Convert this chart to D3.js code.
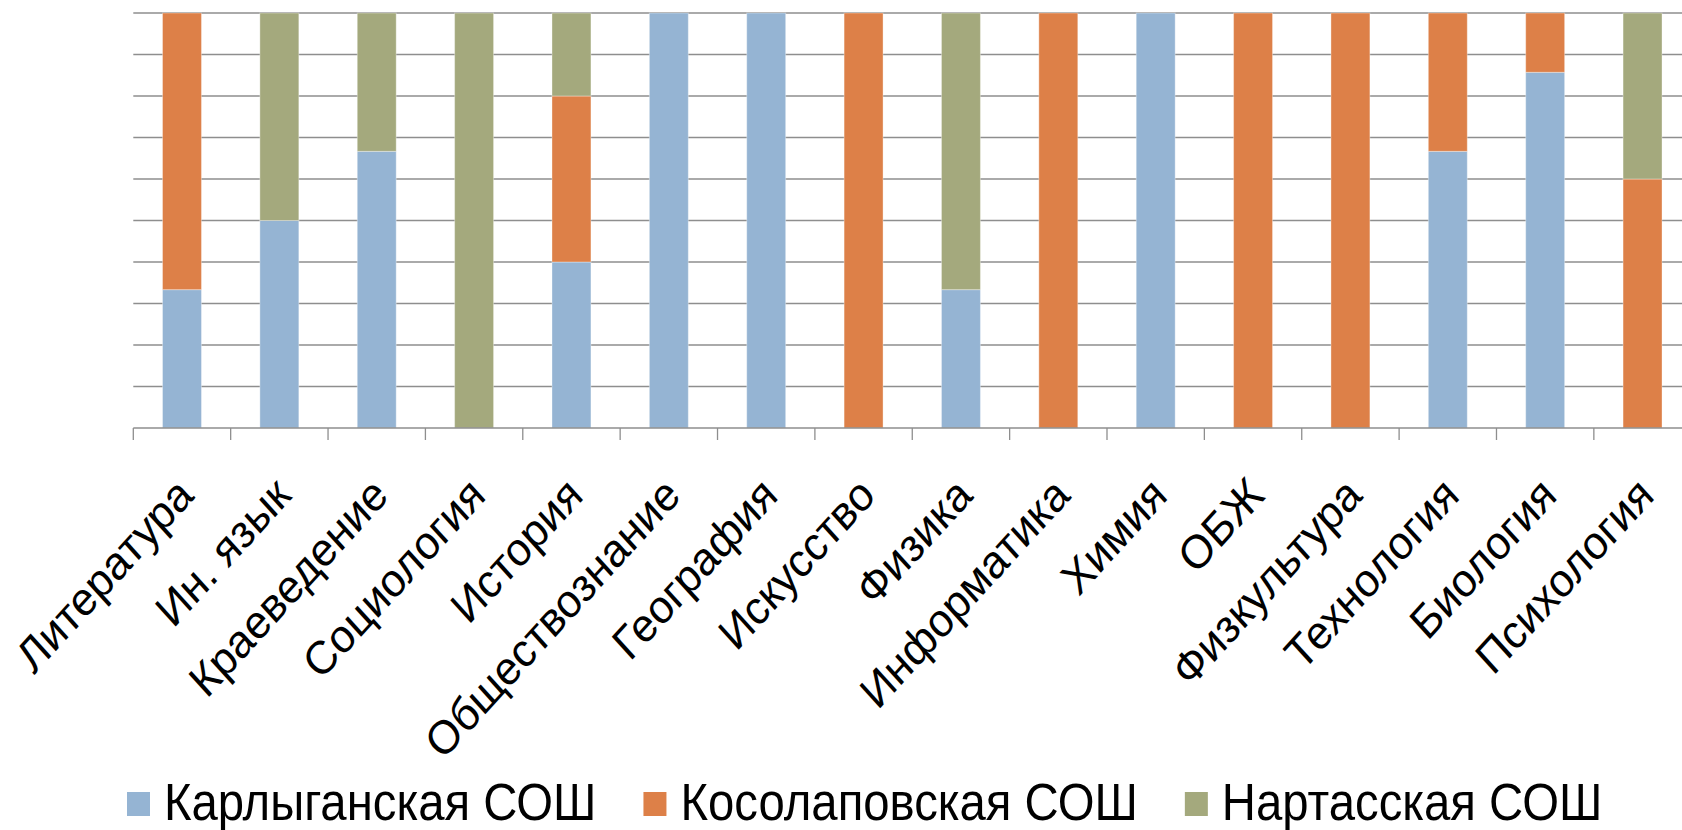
<!DOCTYPE html>
<html><head><meta charset="utf-8">
<script src="https://cdn.jsdelivr.net/npm/d3@7"></script>
<style>
html,body{margin:0;padding:0;background:#fff;}
svg{display:block;font-family:"Liberation Sans",Arial,sans-serif;}
</style></head>
<body>
<svg id="chart" width="1682" height="830"></svg>
<script>
const categories = ["Литература","Ин. язык","Краеведение","Социология","История","Обществознание","География","Искусство","Физика","Информатика","Химия","ОБЖ","Физкультура","Технология","Биология","Психология"];
const seriesNames = ["Карлыганская СОШ","Косолаповская СОШ","Нартасская СОШ"];
const karlygan   = [1,1,2,0,2,1,1,0,1,0,1,0,0,2,6,0];
const kosolapov  = [2,0,0,0,2,0,0,1,0,1,0,1,1,1,1,3];
const nartass    = [0,1,1,1,1,0,0,0,2,0,0,0,0,0,0,2];
const yTicks = [0,0.1,0.2,0.3,0.4,0.5,0.6,0.7,0.8,0.9,1];
const colors = ["#95b4d3","#dd8048","#a4a97d"];

const svg = d3.select("#chart");
const M = {left:133.3, top:13, bottom:428};
const step = 97.37;
const x = d3.scaleBand().domain(categories).range([M.left, M.left + step*categories.length]).paddingInner(0.6).paddingOuter(0.3);
const y = d3.scaleLinear().domain([0,1]).range([M.bottom, M.top]);

const rows = categories.map((c,i)=>({cat:c, s0:karlygan[i], s1:kosolapov[i], s2:nartass[i]}));
const stack = d3.stack().keys(["s0","s1","s2"]).offset(d3.stackOffsetExpand);
const stacked = stack(rows);

// gridlines
svg.append("g").selectAll("line").data(yTicks.filter(t=>t>0)).join("line")
  .attr("x1", M.left).attr("x2", 1682)
  .attr("y1", d=>y(d)).attr("y2", d=>y(d))
  .attr("stroke","#8e8e8e").attr("stroke-width",1.3);

// bars
svg.append("g").selectAll("g").data(stacked).join("g")
  .attr("fill",(d,i)=>colors[i])
  .selectAll("rect").data(d=>d.filter(p=>p[1]-p[0]>0)).join("rect")
  .attr("x", d=>x(d.data.cat)).attr("width", x.bandwidth())
  .attr("y", d=>y(d[1])).attr("height", d=>y(d[0])-y(d[1]))
  .attr("stroke","#ffffff").attr("stroke-opacity",0.35).attr("stroke-width",1);

// x axis
const xAxis = svg.append("g").attr("transform",`translate(0,${M.bottom})`);
xAxis.append("line").attr("x1",M.left).attr("x2",1682).attr("y1",0).attr("y2",0)
  .attr("stroke","#8e8e8e").attr("stroke-width",1.3);
const bounds = d3.range(categories.length+1).map(i=>M.left + i*x.step());
xAxis.selectAll("line.tick").data(bounds).join("line").attr("class","tick")
  .attr("x1",d=>d).attr("x2",d=>d).attr("y1",0).attr("y2",12)
  .attr("stroke","#8e8e8e").attr("stroke-width",1.3);
xAxis.selectAll("text").data(categories).join("text")
  .attr("transform", d=>`translate(${x(d)+x.bandwidth()/2+3},${58}) scale(1,1.1) rotate(-45)`)
  .attr("text-anchor","end").attr("dy","0.35em")
  .attr("font-size",42.5).attr("fill","#000")
  .text(d=>d);

// legend
const leg = svg.append("g");
let lx = 127;
seriesNames.forEach((n,i)=>{
  leg.append("rect").attr("x",lx).attr("y",792).attr("width",23).attr("height",24).attr("fill",colors[i]);
  const t = leg.append("text").attr("transform",`translate(${lx+37},820) scale(1,1.09)`)
    .attr("font-size",47.3).attr("fill","#000").text(n);
  lx += 37 + t.node().getComputedTextLength() + 47;
});
</script>
</body></html>
